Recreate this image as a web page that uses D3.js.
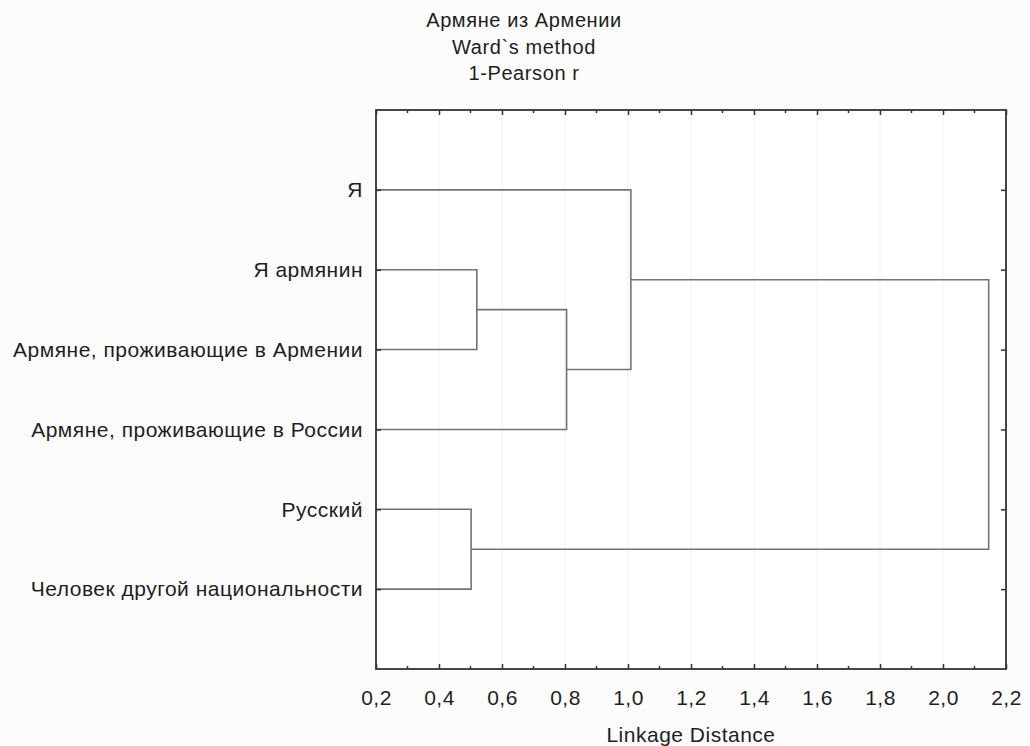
<!DOCTYPE html>
<meta charset="utf-8">
<script src="https://d3js.org/d3.v7.min.js"></script>
<style>
  body { margin: 0; background: #fcfcfc; }
  text { font-family: "Liberation Sans", Arial, sans-serif; fill: #1e1e1e; }
</style>
<div id="chart"></div>
<script>
// leaves, top to bottom
var leaves = ["Я", "Я армянин", "Армяне, проживающие в Армении", "Армяне, проживающие в России", "Русский", "Человек другой национальности"];
// merges: node ids 0-5 are leaves, each merge makes new id 6, 7, ...
var mergeA = [1, 6, 4, 0, 8];
var mergeB = [2, 3, 5, 7, 9];
var mergeHeight = [0.52, 0.805, 0.502, 1.009, 2.145];
var xTicks = [0.2, 0.4, 0.6, 0.8, 1.0, 1.2, 1.4, 1.6, 1.8, 2.0, 2.2];
var titleLines = ["Армяне из Армении", "Ward`s method", "1-Pearson r"];

var W = 1030, H = 746;
var margin = {top: 110, right: 24, bottom: 77, left: 376};
var width = W - margin.left - margin.right,
    height = H - margin.top - margin.bottom;

var svgRoot = d3.select("#chart").append("svg").attr("width", W).attr("height", H);
var svg = svgRoot.append("g").attr("transform", "translate(" + margin.left + "," + margin.top + ")");

var x = d3.scaleLinear().domain([0.2, 2.2]).range([0, width]);
var y = d3.scalePoint().domain(leaves).range([0, height]).padding(1);

svg.append("rect").attr("width", width).attr("height", height).attr("fill", "#fff");

// faint grid
svg.append("g").selectAll("line").data(xTicks.slice(1, -1)).enter().append("line")
  .attr("x1", function(d) { return x(d); }).attr("x2", function(d) { return x(d); })
  .attr("y1", 0).attr("y2", height)
  .attr("stroke", "#f2f2f2").attr("stroke-width", 1);

// compute node positions
var nodeX = leaves.map(function() { return 0.2; });
var nodeY = leaves.map(function(d) { return y(d); });
var links = [];
mergeA.forEach(function(a, i) {
  var b = mergeB[i], h = mergeHeight[i];
  links.push([nodeX[a], nodeY[a], h, nodeY[b], nodeX[b]]);
  nodeX.push(h);
  nodeY.push((nodeY[a] + nodeY[b]) / 2);
});

svg.append("g").selectAll("path").data(links).enter().append("path")
  .attr("d", function(d) {
    return "M" + x(d[0]) + "," + d[1] + "H" + x(d[2]) + "V" + d[3] + "H" + x(d[4]);
  })
  .attr("fill", "none").attr("stroke", "#737373").attr("stroke-width", 1.6);

// axes
var minor = d3.range(3, 22, 2).map(function(d) { return d / 10; });
var fmt = function(d) { return d3.format(".1f")(d).replace(".", ","); };
var styleText = function(sel) {
  sel.attr("font-size", 21).attr("letter-spacing", 0.5).attr("fill", "#1e1e1e");
};

svg.append("g").attr("transform", "translate(0," + height + ")")
  .call(d3.axisBottom(x).tickValues(xTicks).tickFormat(fmt).tickSizeInner(-5).tickSizeOuter(0).tickPadding(21))
  .call(function(g) {
    g.select(".domain").remove();
    g.selectAll("line").attr("stroke", "#333").attr("stroke-width", 1.5);
    g.selectAll("text").call(styleText);
  });
svg.append("g").selectAll("line").data(minor).enter().append("line")
  .attr("x1", function(d) { return x(d); }).attr("x2", function(d) { return x(d); })
  .attr("y1", height).attr("y2", height - 3).attr("stroke", "#333").attr("stroke-width", 1.5);

svg.append("g")
  .call(d3.axisTop(x).tickValues(xTicks).tickFormat("").tickSizeInner(-5).tickSizeOuter(0))
  .call(function(g) {
    g.select(".domain").remove();
    g.selectAll("line").attr("stroke", "#333").attr("stroke-width", 1.5);
  });
svg.append("g").selectAll("line").data(minor).enter().append("line")
  .attr("x1", function(d) { return x(d); }).attr("x2", function(d) { return x(d); })
  .attr("y1", 0).attr("y2", 3).attr("stroke", "#333").attr("stroke-width", 1.5);

svg.append("g")
  .call(d3.axisLeft(y).tickSizeInner(-5).tickSizeOuter(0).tickPadding(13))
  .call(function(g) {
    g.select(".domain").remove();
    g.selectAll("line").attr("stroke", "#333").attr("stroke-width", 1.5);
    g.selectAll("text").call(styleText);
  });
svg.append("g").attr("transform", "translate(" + width + ",0)")
  .call(d3.axisRight(y).tickFormat("").tickSizeInner(-5).tickSizeOuter(0))
  .call(function(g) {
    g.select(".domain").remove();
    g.selectAll("line").attr("stroke", "#333").attr("stroke-width", 1.5);
  });

// frame
svg.append("rect").attr("width", width).attr("height", height)
  .attr("fill", "none").attr("stroke", "#333").attr("stroke-width", 1.8);

// axis title
svg.append("text").attr("x", width / 2).attr("y", height + 73)
  .attr("text-anchor", "middle").text("Linkage Distance").call(styleText);

// chart title
svgRoot.append("g").selectAll("text").data(titleLines).enter().append("text")
  .attr("x", 524).attr("y", function(d, i) { return 27 + i * 26.5; })
  .attr("text-anchor", "middle").attr("font-size", 20).attr("letter-spacing", 0.6)
  .text(function(d) { return d; });
</script>
